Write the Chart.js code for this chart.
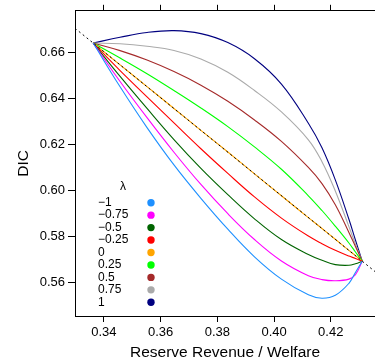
<!DOCTYPE html>
<html>
<head>
<meta charset="utf-8">
<script src="https://cdn.jsdelivr.net/npm/chart.js@4"></script>
<style>
  body { margin: 0; background: #fff; }
</style>
</head>
<body>
<canvas id="dicChart" width="375" height="362"></canvas>
<script>
// ticks
const xTicks = [0.34, 0.36, 0.38, 0.40, 0.42];
const yTicks = [0.56, 0.58, 0.60, 0.62, 0.64, 0.66];

// legend labels (lambda)
const lambdas = ["\u22121", "\u22120.75", "\u22120.5", "\u22120.25", "0", "0.25", "0.5", "0.75", "1"];

// reserve revenue / welfare, shared by all curves
const xGrid = [0.3362, 0.3457, 0.3552, 0.3647, 0.3742, 0.3837, 0.3931, 0.4026, 0.4121, 0.4169, 0.4216, 0.4264, 0.4287, 0.4311];

// DIC for each lambda
const dicM100 = [0.6641, 0.6451, 0.6274, 0.6112, 0.5967, 0.5833, 0.5713, 0.5616, 0.5548, 0.5533, 0.5546, 0.5598, 0.5645, 0.5694];
const dicM075 = [0.6641, 0.6474, 0.6317, 0.6167, 0.6027, 0.5900, 0.5788, 0.5695, 0.5631, 0.5614, 0.5609, 0.5616, 0.5635, 0.5694];
const dicM050 = [0.6641, 0.6496, 0.6357, 0.6222, 0.6097, 0.5983, 0.5878, 0.5788, 0.5723, 0.5698, 0.5679, 0.5676, 0.5683, 0.5694];
const dicM025 = [0.6641, 0.6521, 0.6407, 0.6294, 0.6182, 0.6075, 0.5973, 0.5881, 0.5803, 0.5770, 0.5741, 0.5716, 0.5706, 0.5694];
const dic000  = [0.6641, 0.6546, 0.6452, 0.6357, 0.6262, 0.6168, 0.6073, 0.5978, 0.5883, 0.5836, 0.5789, 0.5741, 0.5718, 0.5694];
const dic025  = [0.6641, 0.6576, 0.6508, 0.6435, 0.6359, 0.6278, 0.6190, 0.6093, 0.5978, 0.5914, 0.5846, 0.5773, 0.5734, 0.5694];
const dic050  = [0.6641, 0.6608, 0.6567, 0.6517, 0.6458, 0.6388, 0.6307, 0.6214, 0.6101, 0.6031, 0.5939, 0.5819, 0.5758, 0.5694];
const dic075  = [0.6641, 0.6638, 0.6627, 0.6609, 0.6572, 0.6514, 0.6435, 0.6342, 0.6221, 0.6126, 0.5999, 0.5844, 0.5768, 0.5694];
const dic100  = [0.6641, 0.6666, 0.6687, 0.6695, 0.6682, 0.6643, 0.6573, 0.6463, 0.6293, 0.6186, 0.6047, 0.5876, 0.5786, 0.5694];

// dotted reference line through the two end points
const refX = [0.3298, 0.4356];
const refY = [0.6705, 0.5649];

const curves = [dicM100, dicM075, dicM050, dicM025, dic000, dic025, dic050, dic075, dic100];
const colors = ["#1e90ff", "#ff00ff", "#006400", "#ff0000", "#ffa500", "#00ff00", "#a52a2a", "#aaaaaa", "#000080"];

const font = '"Liberation Sans", Arial, Helvetica, sans-serif';
const toPts = (xs, ys) => xs.map((x, i) => ({ x: x, y: ys[i] }));

const datasets = [
  {
    label: "ref",
    data: toPts(refX, refY),
    borderColor: "#000",
    borderWidth: 1,
    borderDash: [2, 3],
    showLine: true,
    pointRadius: 0,
  },
];
curves.forEach((c, i) => {
  datasets.push({
    label: lambdas[i],
    data: toPts(xGrid, c),
    borderColor: colors[i],
    borderWidth: 1.1,
    showLine: true,
    pointRadius: 0,
    tension: 0.4,
  });
});

// legend drawn inside the plot
const lambdaLegend = {
  id: "lambdaLegend",
  afterDraw(chart) {
    const ctx = chart.ctx;
    ctx.save();
    ctx.font = "12px " + font;
    ctx.textBaseline = "middle";
    ctx.fillStyle = "#000";
    ctx.textAlign = "center";
    ctx.fillText("\u03bb", 123, 187);
    ctx.textAlign = "left";
    lambdas.forEach((lab, i) => {
      const y = 202.7 + i * 12.45;
      ctx.fillStyle = "#000";
      ctx.fillText(lab, 98, y);
      ctx.fillStyle = colors[i];
      ctx.beginPath();
      ctx.arc(151, y, 3.7, 0, Math.PI * 2);
      ctx.fill();
    });
    ctx.restore();
  },
};

const axisGrid = { drawOnChartArea: false, drawTicks: true, tickLength: 6, color: "#000", lineWidth: 1 };

new Chart(document.getElementById("dicChart"), {
  type: "scatter",
  data: { datasets },
  options: {
    responsive: false,
    animation: false,
    layout: { padding: 0 },
    plugins: { legend: { display: false }, tooltip: { enabled: false } },
    scales: {
      x: {
        type: "linear",
        position: "bottom",
        min: 0.3298,
        max: 0.4356,
        afterBuildTicks: (s) => { s.ticks = xTicks.map((v) => ({ value: v })); },
        afterFit: (s) => { s.height = 46; },
        ticks: {
          color: "#000",
          font: { family: font, size: 13 },
          padding: 3,
          maxRotation: 0,
          autoSkip: false,
          callback: (v) => v.toFixed(2),
        },
        grid: axisGrid,
        border: { color: "#000", width: 1 },
        title: {
          display: true,
          text: "Reserve Revenue / Welfare",
          color: "#000",
          font: { family: font, size: 15.5 },
          padding: { top: 3, bottom: 0 },
        },
      },
      xTop: {
        type: "linear",
        position: "top",
        min: 0.3298,
        max: 0.4356,
        afterBuildTicks: (s) => { s.ticks = xTicks.map((v) => ({ value: v })); },
        afterFit: (s) => { s.height = 10; },
        ticks: { display: false },
        grid: axisGrid,
        border: { color: "#000", width: 1 },
      },
      y: {
        type: "linear",
        position: "left",
        min: 0.5456,
        max: 0.6781,
        afterBuildTicks: (s) => { s.ticks = yTicks.map((v) => ({ value: v })); },
        afterFit: (s) => { s.width = 75; },
        ticks: {
          color: "#000",
          font: { family: font, size: 13 },
          padding: 3,
          callback: (v) => v.toFixed(2),
        },
        grid: { ...axisGrid, tickLength: 7 },
        border: { color: "#000", width: 1 },
        title: {
          display: true,
          text: "DIC",
          color: "#000",
          font: { family: font, size: 15.5 },
          padding: { top: 14, bottom: 0 },
        },
      },
    },
  },
  plugins: [lambdaLegend],
});
</script>
</body>
</html>
